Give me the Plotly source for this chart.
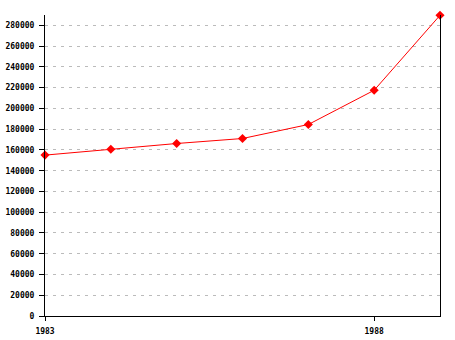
import plotly.graph_objects as go

years = [1983, 1984, 1985, 1986, 1987, 1988, 1989]
values = [155000, 160600, 166200, 171000, 184500, 217500, 289700]
y_ticks = list(range(0, 280001, 20000))
x_ticks = [1983, 1988]

fig = go.Figure()
fig.add_trace(go.Scatter(
    x=years, y=values, mode="lines+markers",
    line=dict(color="#ff0000", width=1),
    marker=dict(symbol="diamond", size=7, color="#ff0000"),
    showlegend=False, hoverinfo="skip", cliponaxis=False,
))

tf = dict(family="DejaVu Sans Mono", size=8, color="#000000", weight="bold")
fig.update_layout(
    width=455, height=340,
    margin=dict(l=45, r=15, t=15, b=24, autoexpand=False),
    paper_bgcolor="white", plot_bgcolor="white",
    xaxis=dict(
        range=[1983, 1989], tickmode="array", tickvals=x_ticks,
        ticktext=[str(v) for v in x_ticks],
        showgrid=False, zeroline=False, automargin=False,
        showline=True, linecolor="#000000", linewidth=1,
        ticks="outside", ticklen=4, tickcolor="#000000",
        ticklabelstandoff=3,
        tickfont=tf,
    ),
    yaxis=dict(
        range=[0, 290000], tickmode="array", tickvals=y_ticks,
        ticktext=[str(v) for v in y_ticks],
        showgrid=True, gridcolor="#bbbbbb", griddash="3px,5px", gridwidth=1,
        zeroline=False, automargin=False,
        showline=True, linecolor="#000000", linewidth=1, mirror=True,
        ticks="outside", ticklen=5, tickcolor="#000000",
        ticklabelstandoff=3,
        tickfont=tf,
    ),
)
fig.write_html("out.html")
